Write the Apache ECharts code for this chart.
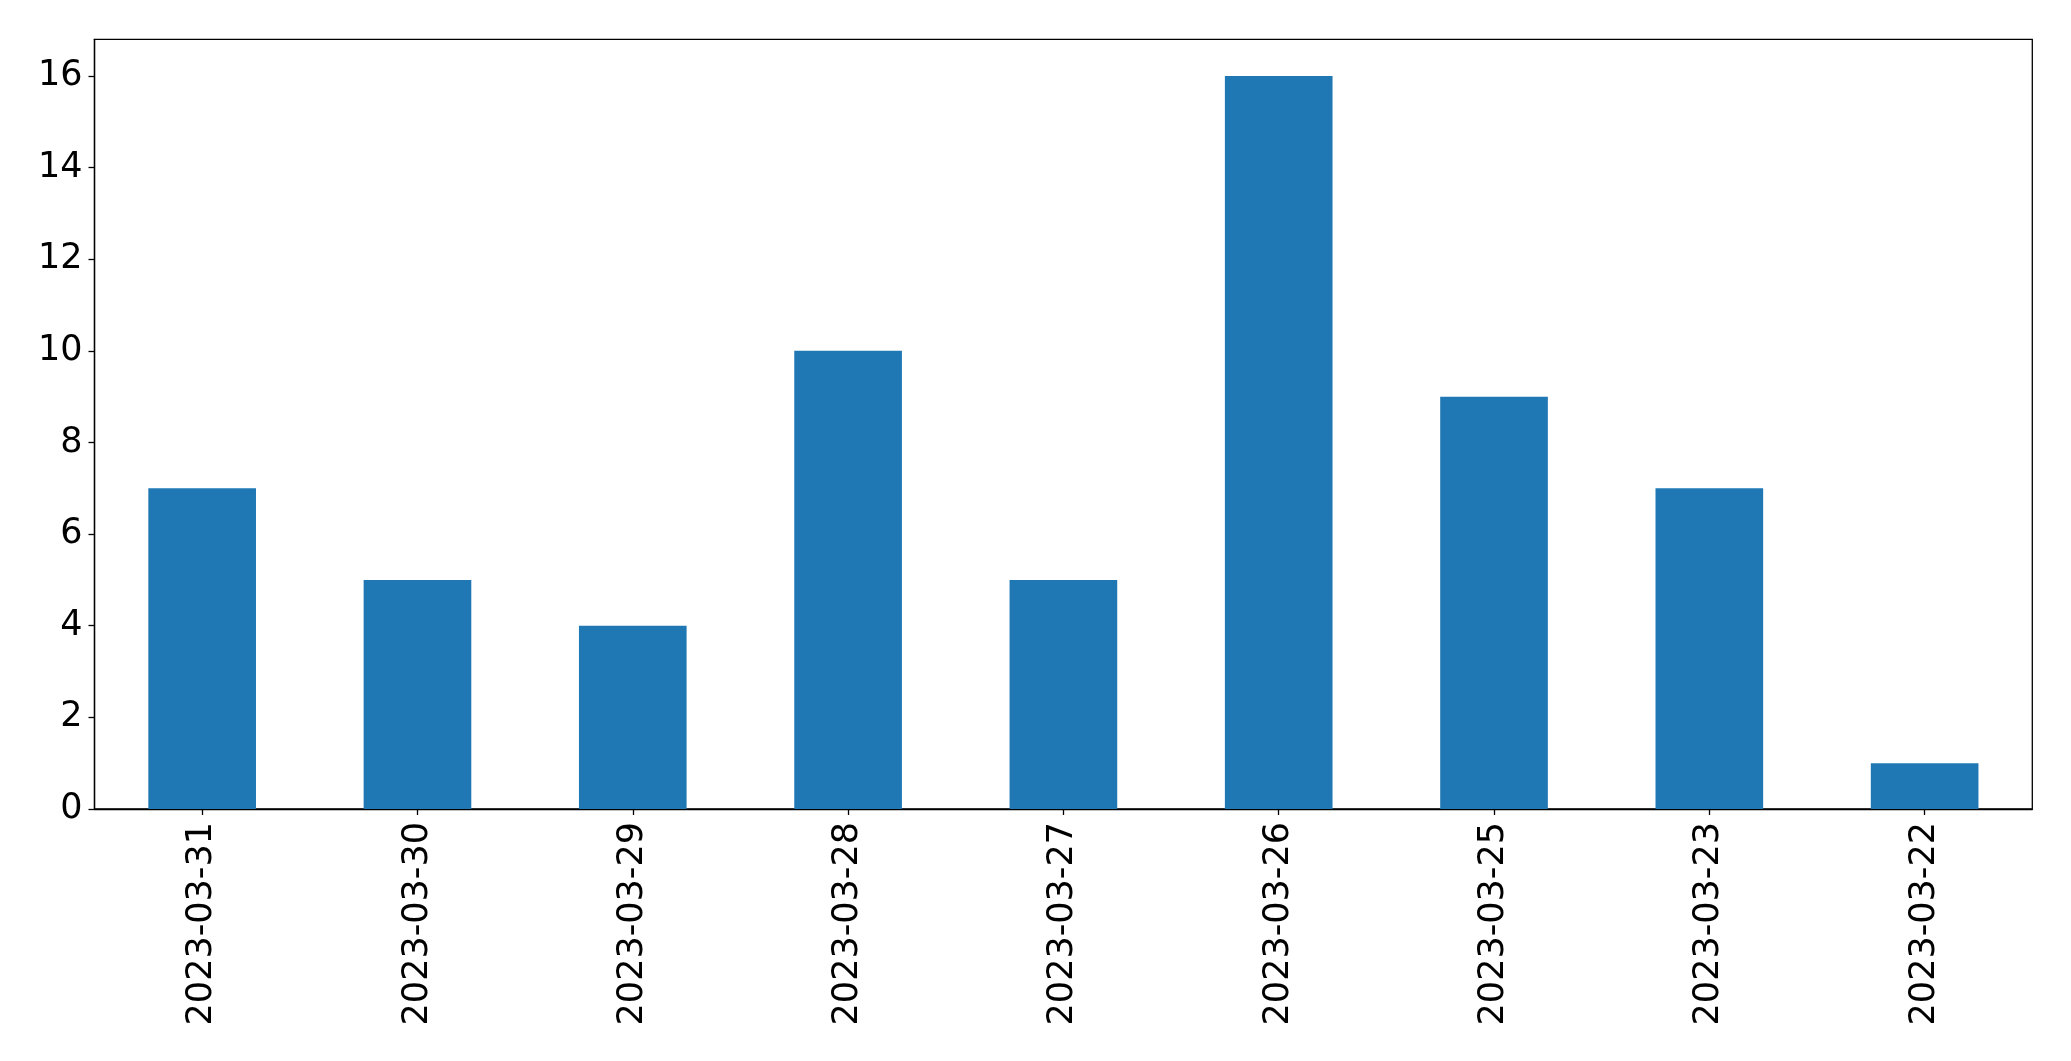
<!DOCTYPE html>
<html>
<head>
<meta charset="utf-8">
<script src="https://cdn.jsdelivr.net/npm/echarts@6/dist/echarts.min.js"></script>
<style>
html,body{margin:0;padding:0;background:#fff;}
#chart{width:2071px;height:1061px;}
</style>
</head>
<body>
<div id="chart"></div>
<script>
const categories = ['2023-03-31','2023-03-30','2023-03-29','2023-03-28','2023-03-27','2023-03-26','2023-03-25','2023-03-23','2023-03-22'];
const values = [7,5,4,10,5,16,9,7,1];
const yTicks = [0,2,4,6,8,10,12,14,16];

const chart = echarts.init(document.getElementById('chart'), null, {renderer:'canvas'});
const font = {fontFamily:'DejaVu Sans', fontSize:35, color:'#000'};
chart.setOption({
  animation:false,
  backgroundColor:'#fff',
  grid:{left:94.5, right:38.7, top:39.3, bottom:252, show:true, borderColor:'#000', borderWidth:1.3, backgroundColor:'transparent'},
  xAxis:{
    type:'category', data:categories, boundaryGap:true,
    axisLine:{show:true, lineStyle:{color:'#000', width:1.3}},
    axisTick:{show:true, alignWithLabel:true, length:6, lineStyle:{color:'#000', width:1.3}},
    axisLabel:Object.assign({rotate:90, margin:13, interval:0}, font),
    splitLine:{show:false}
  },
  yAxis:{
    type:'value', min:0, max:16.8,
    axisLine:{show:true, lineStyle:{color:'#000', width:1.3}},
    axisTick:{show:true, length:6, customValues:yTicks, lineStyle:{color:'#000', width:1.3}},
    axisLabel:Object.assign({margin:12, customValues:yTicks}, font),
    splitLine:{show:false}
  },
  series:[{type:'bar', data:values, barWidth:'50%', itemStyle:{color:'#1f77b4'}}]
});
</script>
</body>
</html>
